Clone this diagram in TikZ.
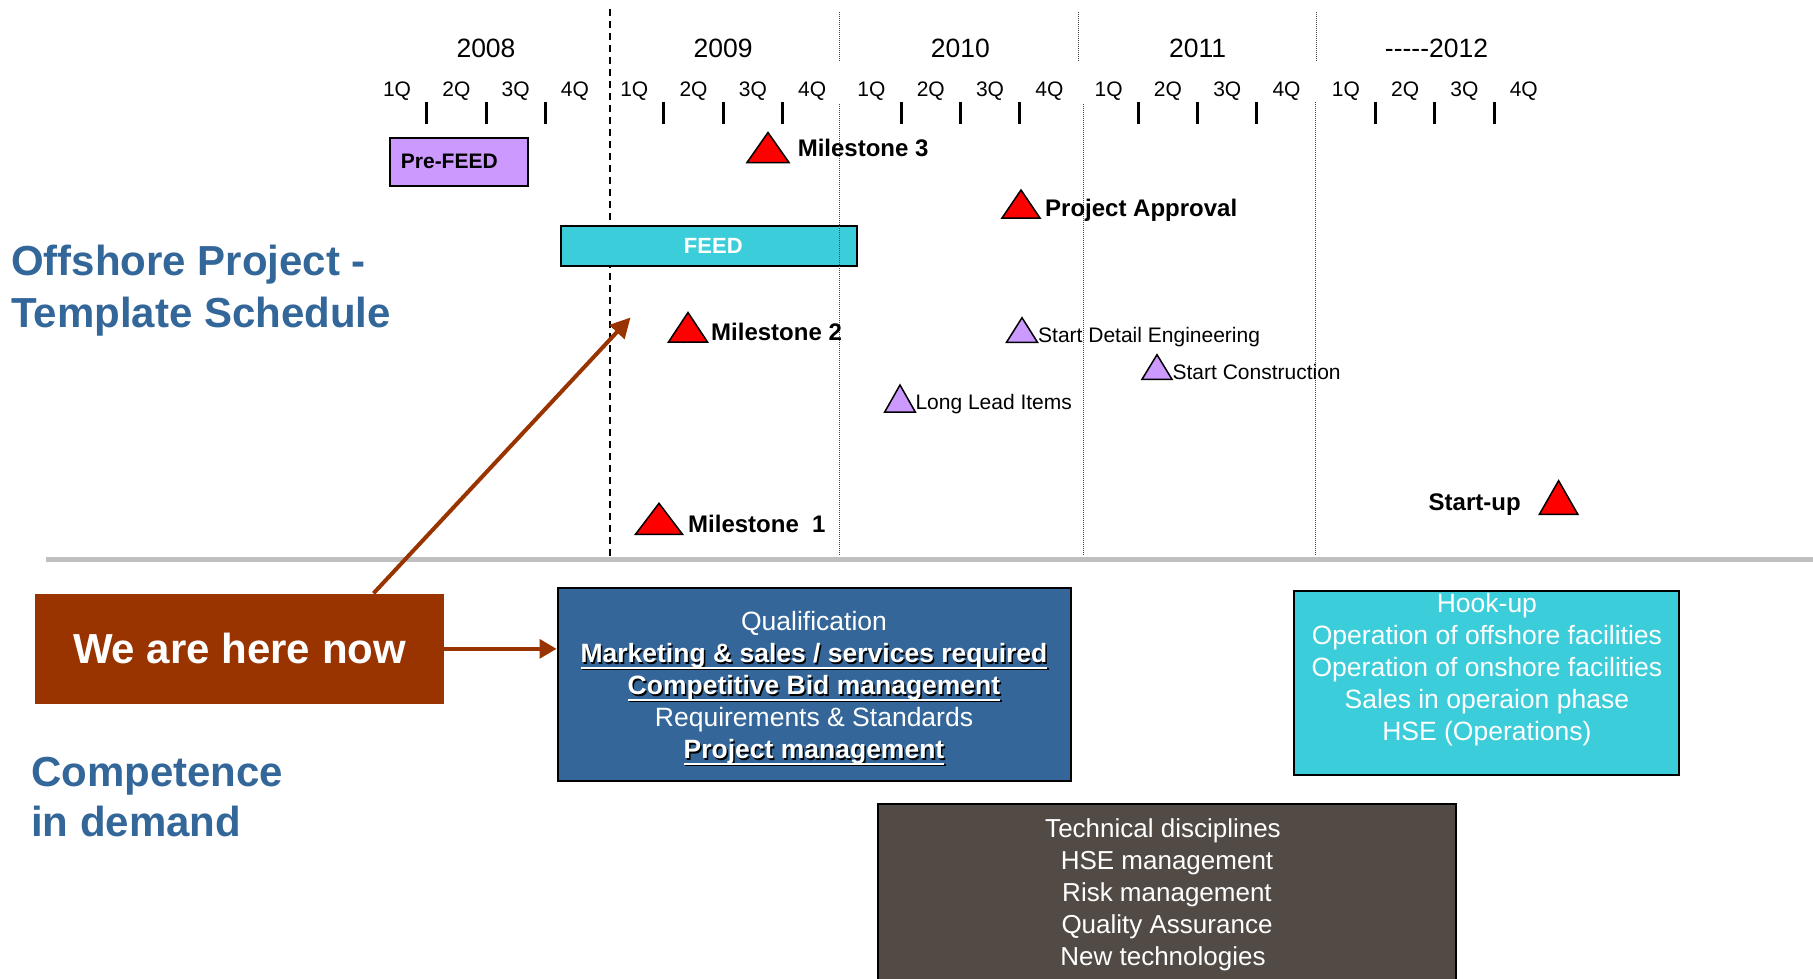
\documentclass[tikz,border=0pt]{standalone}
\usepackage{fontspec}
\setmainfont{Liberation Sans}
\usetikzlibrary{arrows.meta}
\definecolor{titleblue}{HTML}{336699}
\definecolor{lav}{HTML}{CC99FF}
\definecolor{feedcyan}{HTML}{3CCDDA}
\definecolor{rust}{HTML}{993300}
\definecolor{qualblue}{HTML}{346699}
\definecolor{techgray}{HTML}{524B45}
\definecolor{sepgray}{HTML}{C0C0C0}
\newsavebox\ulbox
\newcommand\shad[1]{\leavevmode\rlap{\kern1.5pt\raisebox{-1.5pt}{\color{black}#1}}#1}
\newcommand\ulx[1]{\sbox\ulbox{#1}\rlap{\rule[-6pt]{\wd\ulbox}{2pt}}\usebox\ulbox}
\newcommand\mtri[5]{\draw[#1] ({#2-#4/2},#3) -- (#2,{#3-#5}) -- ({#2+#4/2},#3) -- cycle;}
\begin{document}
\begin{tikzpicture}[x=1pt,y=-1pt,
  yearlbl/.style={font=\fontsize{26.5}{32}\selectfont, inner sep=0, anchor=base},
  qlbl/.style={font=\fontsize{21}{25}\selectfont, inner sep=0, anchor=base},
  qtick/.style={line width=3pt},
  yearsep/.style={line width=1pt, dash pattern=on 1pt off 1pt, draw=black!75},
  nowline/.style={line width=2pt, dash pattern=on 7pt off 5pt},
  phasebox/.style={draw=black, line width=2pt, inner sep=0, anchor=north west},
  mlbl/.style={font=\fontsize{24}{28}\selectfont\bfseries, inner sep=0, anchor=base west},
  slbl/.style={font=\fontsize{21}{25}\selectfont, inner sep=0, anchor=base west},
  redtri/.style={fill=red, draw=black, line width=1.5pt},
  purtri/.style={fill=lav, draw=black, line width=1.5pt},
  title/.style={text=titleblue, inner sep=0, align=left, anchor=base west},
  listtext/.style={text=white, align=center, font=\fontsize{26.5}{32}\selectfont},
  rustarrow/.style={draw=rust, fill=rust},
]
\useasboundingbox (0,0) rectangle (1813,978);
\clip (0,0) rectangle (1813,978);

% time axis
\foreach \yr [count=\i from 0] in {2008,2009,2010,2011}
  \node[yearlbl] (y\yr) at ({486+237.2*\i},57.3) {\yr};
\node[yearlbl] (y2012) at (1436.5,57.3) {-{}-{}-{}-{}-2012};
\foreach \i in {0,...,4}
  \foreach \q in {1,...,4}
    \node[qlbl] (q\i\q) at ({367.4+237.2*\i+59.3*(\q-0.5)},96.5) {\q Q};
\foreach \i in {0,...,4}
  \foreach \j in {1,2,3}
    \draw[qtick] ({367.4+237.2*\i+59.3*\j},102) -- ++(0,22);

% "now" line
\draw[nowline] (610,9) -- (610,556);

% separator
\draw[sepgray, line width=5.6pt] (46,559.5) -- (1813,559.5);

% phase boxes
\node[phasebox, fill=lav, text width=116pt, align=left, inner xsep=11pt,
      minimum height=48.3pt, font=\fontsize{21}{25}\selectfont\bfseries] (prefeed) at (388.9,136.7) {Pre-FEED};
\node[phasebox, fill=feedcyan, text=white, minimum width=296pt, minimum height=40.3pt,
      font=\fontsize{22}{26}\selectfont\bfseries] (feed) at (559.8,224.7) {\hspace*{9pt}FEED};

% year separators
\draw[yearsep] (839.4,12) -- (839.4,62);
\draw[yearsep] (839.4,104) -- (839.4,556);
\draw[yearsep] (1078.7,12) -- (1078.7,62);
\draw[yearsep] (1083,104) -- (1083,556);
\draw[yearsep] (1316,12) -- (1316,62);
\draw[yearsep] (1315.5,102) -- (1315.5,556);

% milestones
\mtri{redtri}{768}{162.5}{42}{30}
\node[mlbl] (m3) at (797.6,156.7) {Milestone 3};
\mtri{redtri}{1021}{218}{38}{28}
\node[mlbl] (appr) at (1045,216) {Project Approval};
\mtri{redtri}{688}{342}{39}{29.5}
\node[mlbl] (m2) at (711,340) {Milestone 2};
\mtri{redtri}{659}{534.3}{47}{31}
\node[mlbl] (m1) at (688,532) {Milestone~~1};
\mtri{redtri}{1558.6}{514.3}{38.4}{33.6}
\node[mlbl] (startup) at (1428.5,510) {Start-up};
\mtri{purtri}{1022}{342.3}{31}{24.6}
\node[slbl] (sde) at (1038,342) {Start Detail Engineering};
\mtri{purtri}{1157}{379.3}{30}{24.6}
\node[slbl] (sc) at (1172.4,379) {Start Construction};
\mtri{purtri}{900}{412}{30.6}{27}
\node[slbl] (lli) at (915.3,409) {Long Lead Items};

% titles (base anchor = last line)
\node[title, font=\fontsize{42}{51.6}\selectfont\bfseries] (t1) at (11,327.3) {Offshore Project -\\Template Schedule};
\node[title, font=\fontsize{42}{50}\selectfont\bfseries] (t2) at (31,836.7) {Competence\\in demand};

% competence boxes
\node[phasebox, fill=qualblue, listtext, minimum width=513pt, minimum height=192.7pt] (qual) at (556.5,587.3)
  {\rule{0pt}{28pt}Qualification\\
   \shad{\ulx{\textbf{Marketing \& sales / services required}}}\\
   \shad{\ulx{\textbf{Competitive Bid management}}}\\
   Requirements \& Standards\\
   \shad{\ulx{\textbf{Project management}}}};
\node[phasebox, fill=feedcyan, listtext, minimum width=385pt, minimum height=184.3pt] (hook) at (1293.4,590)
  {Hook-up\\Operation of offshore facilities\\Operation of onshore facilities\\Sales in operaion phase\\HSE (Operations)\\ \mbox{}};
\node[phasebox, fill=techgray, listtext, font=\fontsize{26}{32}\selectfont, minimum width=577.4pt, minimum height=180pt] (tech) at (877.3,803.3)
  {Technical disciplines\hspace*{8pt}\\HSE management\hspace*{8pt}\\Risk management\hspace*{8pt}\\Quality Assurance\hspace*{8pt}\\New technologies\hspace*{8pt}};

% we are here
\node[fill=rust, text=white, anchor=north west, minimum width=409.3pt, minimum height=110.7pt, inner sep=0,
      font=\fontsize{42}{50}\selectfont\bfseries] (wehere) at (34.7,593.3) {We are here now};
\coordinate (nowtip) at (630.5,317.5);
\draw[rustarrow, line width=4pt, -{Triangle[length=20pt,width=20pt]}] ([xshift=134pt]wehere.north) -- (nowtip);
\draw[rustarrow, line width=3.5pt, -{Triangle[length=17pt,width=19pt]}] (wehere.east) -- (wehere.east -| qual.west);
\end{tikzpicture}
\end{document}
